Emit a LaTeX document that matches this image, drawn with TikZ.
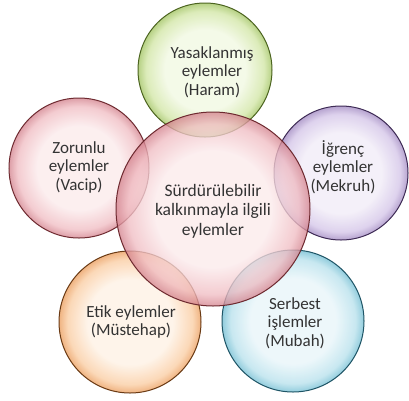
\documentclass[tikz,border=0pt]{standalone}
\usepackage{fontspec}
\setmainfont{Carlito}
\definecolor{txt}{HTML}{333333}
% red
\definecolor{rL}{HTML}{FBEAEB}\definecolor{rM}{HTML}{F0BDC3}\definecolor{rD}{HTML}{D4848F}\definecolor{rB}{HTML}{6E2A30}
% green
\definecolor{gL}{HTML}{F1F8E2}\definecolor{gM}{HTML}{D2E6A6}\definecolor{gD}{HTML}{A2C462}\definecolor{gB}{HTML}{4C6420}
% purple
\definecolor{pL}{HTML}{F1ECF7}\definecolor{pM}{HTML}{D4C5E8}\definecolor{pD}{HTML}{A28AC2}\definecolor{pB}{HTML}{3E2B55}
% orange
\definecolor{oL}{HTML}{FEF1E4}\definecolor{oM}{HTML}{FACDA3}\definecolor{oD}{HTML}{EB9E5E}\definecolor{oB}{HTML}{6A3A14}
% blue
\definecolor{bL}{HTML}{E8F5F9}\definecolor{bM}{HTML}{B8E1EC}\definecolor{bD}{HTML}{73BED3}\definecolor{bB}{HTML}{1F5566}
\pgfdeclareradialshading{redball}{\pgfpointorigin}{color(0bp)=(rL); color(15bp)=(rL); color(22bp)=(rM); color(25bp)=(rD); color(50bp)=(rD)}
\pgfdeclareradialshading{greenball}{\pgfpointorigin}{color(0bp)=(gL); color(15bp)=(gL); color(22bp)=(gM); color(25bp)=(gD); color(50bp)=(gD)}
\pgfdeclareradialshading{purpleball}{\pgfpointorigin}{color(0bp)=(pL); color(15bp)=(pL); color(22bp)=(pM); color(25bp)=(pD); color(50bp)=(pD)}
\pgfdeclareradialshading{orangeball}{\pgfpointorigin}{color(0bp)=(oL); color(15bp)=(oL); color(22bp)=(oM); color(25bp)=(oD); color(50bp)=(oD)}
\pgfdeclareradialshading{blueball}{\pgfpointorigin}{color(0bp)=(bL); color(15bp)=(bL); color(22bp)=(bM); color(25bp)=(bD); color(50bp)=(bD)}
\tikzset{
  bubble/.style={circle, inner sep=0pt, fill opacity=0.78, line width=1pt, text opacity=1},
  lbl/.style={text=txt, align=center, font=\fontsize{17}{18.5}\selectfont},
  biglbl/.style={text=txt, align=center, font=\fontsize{17.5}{19.5}\selectfont},
}
\begin{document}
\begin{tikzpicture}[x=1pt,y=-1pt]
\useasboundingbox (0,0) rectangle (409,400);
% outer bubbles
\node[bubble, shading=greenball, draw=gB, minimum size=134pt] (haram) at (205,70) {};
\node[bubble, shading=redball, draw=rB, minimum size=140pt] (vacip) at (79,168) {};
\node[bubble, shading=purpleball, draw=pB, minimum size=134pt] (mekruh) at (341,173) {};
\node[bubble, shading=orangeball, draw=oB, minimum size=142pt] (mustehap) at (130,322) {};
\node[bubble, shading=blueball, draw=bB, minimum size=142pt] (mubah) at (293,321) {};
% central bubble
\node[bubble, shading=redball, draw=rB, minimum size=194pt] (center) at (213,209) {};
% labels
\node[lbl] (thar) at (212,72) {Yasaklanmış\\eylemler\\(Haram)};
\node[lbl] (tvac) at (79,167) {Zorunlu\\eylemler\\(Vacip)};
\node[lbl] (tmek) at (343,167) {İğrenç\\eylemler\\(Mekruh)};
\node[lbl] (tmus) at (131,322) {Etik eylemler\\(Müstehap)};
\node[lbl] (tmub) at (295,323) {Serbest\\işlemler\\(Mubah)};
\node[biglbl] (tcen) at (213,211) {Sürdürülebilir\\kalkınmayla ilgili\\eylemler};
\end{tikzpicture}
\end{document}
